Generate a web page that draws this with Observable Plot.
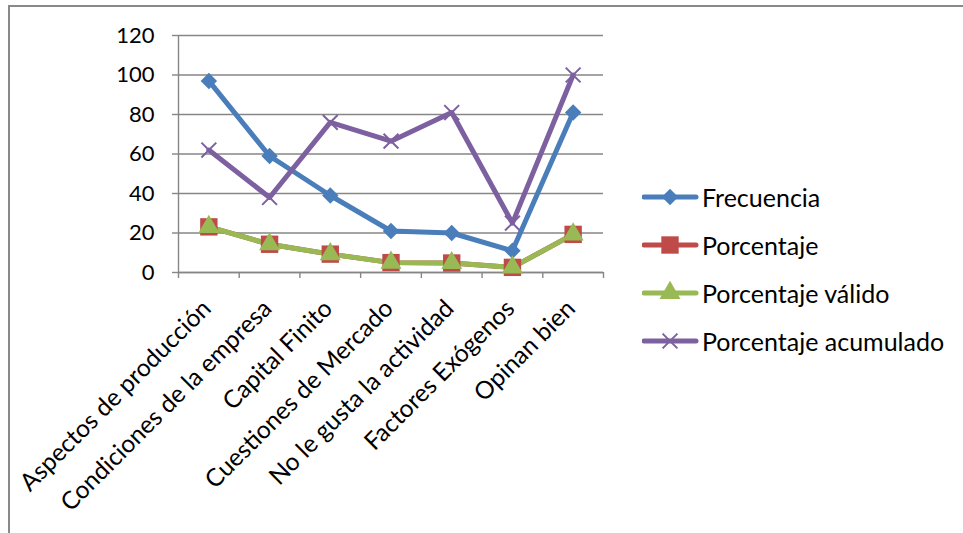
<!DOCTYPE html>
<html>
<head>
<meta charset="utf-8">
<script src="https://cdn.jsdelivr.net/npm/d3@7"></script>
<script src="https://cdn.jsdelivr.net/npm/@observablehq/plot@0.6"></script>
<style>
  html, body { margin: 0; padding: 0; background: #fff; }
  #wrap { position: relative; width: 963px; height: 533px; overflow: hidden; font-family: Lato, sans-serif; }
  #frame { position: absolute; left: 8px; top: 5px; width: 970px; height: 540px;
           border-left: 2px solid #898989; border-top: 2px solid #898989; }
  #chart { position: absolute; left: 0; top: 0; }
  #legend { position: absolute; left: 642px; top: 180px; }
  .item { position: absolute; left: 0; height: 34px; display: flex; align-items: center; white-space: nowrap;
          font-size: 25px; color: #000; }
  .item svg { display: block; margin-right: 2px; }
</style>
</head>
<body>
<div id="wrap">
  <div id="frame"></div>
  <div id="chart"></div>
  <div id="legend"></div>
</div>
<script>
const categories = [
  "Aspectos de producción",
  "Condiciones de la empresa",
  "Capital Finito",
  "Cuestiones de Mercado",
  "No le gusta la actividad",
  "Factores Exógenos",
  "Opinan bien"
];
const seriesNames = ["Frecuencia", "Porcentaje", "Porcentaje válido", "Porcentaje acumulado"];
const frecuencia = [97, 59, 39, 21, 20, 11, 81];
const porcentaje = [23.1, 14.3, 9.3, 5.0, 4.8, 2.6, 19.3];
const porcentajeValido = [23.1, 14.3, 9.3, 5.0, 4.8, 2.6, 19.3];
const porcentajeAcumulado = [62, 38, 76, 66.5, 81, 25, 100];
const yTicks = [0, 20, 40, 60, 80, 100, 120];

const seriesValues = [frecuencia, porcentaje, porcentajeValido, porcentajeAcumulado];
const colors = ["#4A7EBB", "#BE4B48", "#98B954", "#7D60A0"];
const symbols = ["diamond2", "square", "triangle", "times"];
const symbolR = [7.4, 9.8, 7.8, 6.8];

const data = [];
seriesNames.forEach((s, k) => {
  seriesValues[k].forEach((v, i) => data.push({serie: s, k, pos: i + 0.5, cat: categories[i], value: v}));
});

const gridColor = "#868686";
const boundaries = d3.range(categories.length + 1);
const centers = categories.map((c, i) => i + 0.5);

const marks = [
  Plot.gridY(yTicks, {stroke: gridColor, strokeOpacity: 1, strokeWidth: 1.4}),
  Plot.ruleX([0], {y1: 0, y2: 120, stroke: gridColor, strokeWidth: 1.4}),
  Plot.ruleY([0], {x1: 0, x2: categories.length, stroke: gridColor, strokeWidth: 1.4}),
  Plot.axisY(yTicks, {tickSize: 6, tickPadding: 18, stroke: gridColor, strokeWidth: 1.4, label: null, fontSize: 22}),
  Plot.axisX(boundaries, {tickSize: 6, stroke: gridColor, strokeWidth: 1.4, tickFormat: () => "", label: null}),
  Plot.axisX(centers, {tickSize: 0, tickPadding: 32, dx: -2, tickRotate: -45, label: null, fontSize: 24.5,
    tickFormat: d => categories[Math.round(d - 0.5)]})
];
seriesNames.forEach((s, k) => {
  marks.push(Plot.line(data.filter(d => d.k === k), {x: "pos", y: "value", stroke: colors[k], strokeWidth: 5, strokeLinejoin: "round", strokeLinecap: "round"}));
});
seriesNames.forEach((s, k) => {
  const opts = {x: "pos", y: "value", symbol: () => symbols[k], r: symbolR[k]};
  if (symbols[k] === "times") { opts.stroke = colors[k]; opts.strokeWidth = 2; opts.fill = "none"; }
  else { opts.fill = colors[k]; opts.stroke = "none"; }
  marks.push(Plot.dot(data.filter(d => d.k === k), opts));
});

const chart = Plot.plot({
  width: 963,
  height: 533,
  marginLeft: 178,
  marginRight: 360,
  marginTop: 35,
  marginBottom: 261,
  style: {fontFamily: "Lato, sans-serif", fontSize: "22px", color: "#000", background: "transparent", overflow: "visible"},
  x: {type: "linear", domain: [0, categories.length]},
  y: {domain: [0, 120]},
  symbol: {type: "identity"},
  marks
});
document.getElementById("chart").appendChild(chart);

// Legend
const legend = d3.select("#legend");
const legendY = [0, 48, 96, 144];
seriesNames.forEach((s, k) => {
  const item = legend.append("div").attr("class", "item").style("top", legendY[k] + "px");
  const svg = item.append("svg").attr("width", 58).attr("height", 34);
  svg.append("line").attr("x1", 2).attr("x2", 54).attr("y1", 17).attr("y2", 17)
    .attr("stroke", colors[k]).attr("stroke-width", 5).attr("stroke-linecap", "round");
  const symMap = {diamond2: d3.symbolDiamond2, square: d3.symbolSquare, triangle: d3.symbolTriangle, times: d3.symbolTimes};
  const p = svg.append("path").attr("transform", "translate(28,17)")
    .attr("d", d3.symbol(symMap[symbols[k]], Math.PI * symbolR[k] * symbolR[k])());
  if (symbols[k] === "times") p.attr("fill", "none").attr("stroke", colors[k]).attr("stroke-width", 2);
  else p.attr("fill", colors[k]);
  item.append("span").text(s);
});
</script>
</body>
</html>
